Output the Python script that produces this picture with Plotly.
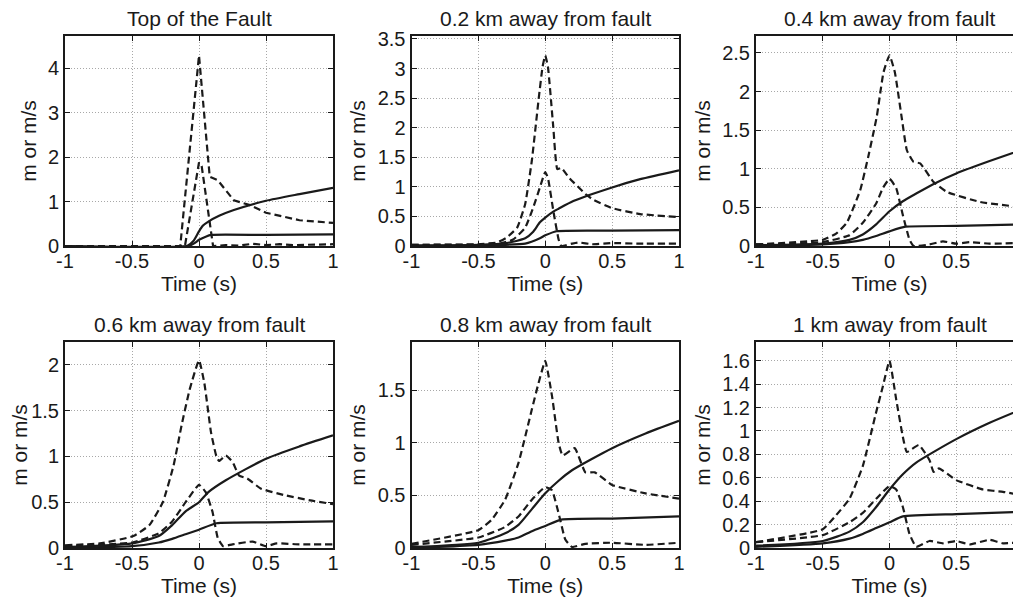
import plotly.graph_objects as go

FONT = "Liberation Sans, Arial, Helvetica, sans-serif"
INK = "#1a1a1a"

TITLES = ["Top of the Fault", "0.2 km away from fault", "0.4 km away from fault",
          "0.6 km away from fault", "0.8 km away from fault", "1 km away from fault"]
X_TICKS = [-1, -0.5, 0, 0.5, 1]
X_TICK_TEXT = ["-1", "-0.5", "0", "0.5", "1"]
Y_TICKS = [[0, 1, 2, 3, 4],
           [0, 0.5, 1, 1.5, 2, 2.5, 3, 3.5],
           [0, 0.5, 1, 1.5, 2, 2.5],
           [0, 0.5, 1, 1.5, 2],
           [0, 0.5, 1, 1.5],
           [0, 0.2, 0.4, 0.6, 0.8, 1, 1.2, 1.4, 1.6]]
Y_MAX = [4.73, 3.55, 2.72, 2.25, 1.96, 1.76]

# ---- Panel 1: Top of the Fault ----
P1_BIG_T = [-1, -0.14, 0.0, 0.08, 0.14, 0.26, 0.38, 0.5, 0.75, 1.0]
P1_BIG_V = [0.0, 0.0, 4.29, 1.56, 1.48, 1.03, 0.92, 0.75, 0.58, 0.52]
P1_SMALL_T = [-1, -0.105, 0.0, 0.02, 0.105, 0.2, 0.3, 0.4, 0.5, 0.6, 0.7, 0.8, 1.0]
P1_SMALL_V = [0.0, 0.0, 1.88, 1.8, 0.0, 0.02, 0.01, 0.05, 0.02, 0.04, 0.02, 0.03, 0.04]
P1_DISP_T = [-1, -0.09, -0.04, 0.0, 0.03, 0.07, 0.15, 0.26, 0.5, 0.75, 1.0]
P1_DISP_V = [0.0, 0.0, 0.12, 0.33, 0.46, 0.55, 0.68, 0.81, 1.02, 1.17, 1.31]
P1_DISP2_T = [-1, -0.08, -0.03, 0.0, 0.05, 0.09, 0.5, 1.0]
P1_DISP2_V = [0.0, 0.0, 0.07, 0.14, 0.21, 0.25, 0.25, 0.26]

# ---- Panel 2: 0.2 km ----
P2_BIG_T = [-1, -0.5, -0.36, -0.29, -0.21, -0.15, -0.1, -0.05, -0.02, 0.0, 0.02, 0.06, 0.09,
            0.12, 0.18, 0.3, 0.36, 0.5, 0.71, 1.0]
P2_BIG_V = [0.02, 0.03, 0.06, 0.14, 0.31, 0.71, 1.45, 2.47, 3.03, 3.22, 3.03, 2.01, 1.3,
            1.32, 1.15, 0.88, 0.78, 0.64, 0.54, 0.49]
P2_SMALL_T = [-1, -0.5, -0.36, -0.24, -0.15, -0.09, -0.04, 0.0, 0.02, 0.06, 0.1, 0.12, 0.2,
              0.25, 0.35, 0.5, 0.7, 1.0]
P2_SMALL_V = [0.02, 0.02, 0.03, 0.11, 0.31, 0.65, 0.99, 1.25, 1.15, 0.6, 0.11, 0.0, 0.04,
              0.06, 0.03, 0.05, 0.04, 0.04]
P2_DISP_T = [-1, -0.5, -0.29, -0.15, -0.09, -0.04, 0.0, 0.06, 0.1, 0.21, 0.5, 0.71, 1.0]
P2_DISP_V = [0.01, 0.02, 0.05, 0.13, 0.24, 0.4, 0.48, 0.58, 0.63, 0.76, 0.99, 1.13, 1.28]
P2_DISP2_T = [-1, -0.5, -0.15, -0.04, 0.0, 0.085, 0.5, 1.0]
P2_DISP2_V = [0.0, 0.01, 0.04, 0.13, 0.18, 0.25, 0.26, 0.27]

# ---- Panel 3: 0.4 km ----
P3_BIG_T = [-1, -0.5, -0.4, -0.32, -0.22, -0.16, -0.095, -0.045, 0.0, 0.04, 0.09, 0.13,
            0.18, 0.23, 0.33, 0.43, 0.68, 1.0]
P3_BIG_V = [0.02, 0.08, 0.16, 0.3, 0.72, 1.15, 1.68, 2.25, 2.47, 2.25, 1.68, 1.24,
            1.09, 1.07, 0.83, 0.7, 0.57, 0.5]
P3_SMALL_T = [-1, -0.5, -0.3, -0.2, -0.1, -0.05, 0.0, 0.05, 0.1, 0.15, 0.18, 0.3, 0.4,
              0.5, 0.6, 0.75, 1.0]
P3_SMALL_V = [0.02, 0.05, 0.14, 0.3, 0.55, 0.75, 0.87, 0.75, 0.4, 0.08, 0.0, 0.02, 0.06,
              0.03, 0.05, 0.03, 0.04]
P3_DISP_T = [-1, -0.5, -0.3, -0.2, -0.1, 0.0, 0.1, 0.2, 0.35, 0.5, 0.75, 1.0]
P3_DISP_V = [0.01, 0.03, 0.08, 0.15, 0.28, 0.45, 0.58, 0.68, 0.82, 0.94, 1.1, 1.25]
P3_DISP2_T = [-1, -0.5, -0.3, -0.2, -0.1, 0.0, 0.12, 0.5, 1.0]
P3_DISP2_V = [0.0, 0.02, 0.05, 0.08, 0.13, 0.19, 0.25, 0.26, 0.28]

# ---- Panel 4: 0.6 km ----
P4_BIG_T = [-1, -0.74, -0.49, -0.37, -0.27, -0.19, -0.13, -0.07, 0.0, 0.04, 0.09, 0.13,
            0.15, 0.2, 0.25, 0.3, 0.36, 0.46, 0.63, 0.83, 1.0]
P4_BIG_V = [0.03, 0.05, 0.13, 0.25, 0.5, 0.9, 1.34, 1.73, 2.05, 1.8, 1.26, 1.0,
            0.95, 1.01, 0.94, 0.79, 0.76, 0.65, 0.58, 0.52, 0.48]
P4_SMALL_T = [-1, -0.5, -0.3, -0.2, -0.1, 0.0, 0.05, 0.1, 0.14, 0.18, 0.25, 0.4, 0.5,
              0.58, 0.75, 1.0]
P4_SMALL_V = [0.02, 0.06, 0.16, 0.29, 0.5, 0.69, 0.61, 0.4, 0.11, 0.02, 0.04, 0.07, 0.02,
              0.05, 0.04, 0.04]
P4_DISP_T = [-1, -0.5, -0.3, -0.2, -0.1, 0.0, 0.07, 0.2, 0.5, 0.75, 1.0]
P4_DISP_V = [0.01, 0.05, 0.13, 0.25, 0.4, 0.5, 0.61, 0.74, 0.975, 1.11, 1.23]
P4_DISP2_T = [-1, -0.5, -0.3, -0.2, -0.1, 0.0, 0.13, 0.5, 1.0]
P4_DISP2_V = [0.0, 0.02, 0.06, 0.1, 0.15, 0.2, 0.27, 0.28, 0.29]

# ---- Panel 5: 0.8 km ----
P5_BIG_T = [-1, -0.5, -0.4, -0.3, -0.2, -0.1, -0.05, 0.0, 0.05, 0.1, 0.13, 0.22, 0.3,
            0.37, 0.5, 0.75, 1.0]
P5_BIG_V = [0.04, 0.17, 0.27, 0.46, 0.81, 1.32, 1.57, 1.78, 1.45, 1.0, 0.88, 0.95, 0.72,
            0.72, 0.6, 0.52, 0.47]
P5_SMALL_T = [-1, -0.5, -0.3, -0.2, -0.1, 0.0, 0.05, 0.1, 0.15, 0.2, 0.3, 0.5, 0.75, 1.0]
P5_SMALL_V = [0.03, 0.1, 0.2, 0.3, 0.46, 0.58, 0.55, 0.33, 0.08, 0.01, 0.04, 0.05, 0.03, 0.05]
P5_DISP_T = [-1, -0.5, -0.3, -0.2, -0.1, 0.0, 0.1, 0.2, 0.5, 0.75, 1.0]
P5_DISP_V = [0.01, 0.05, 0.14, 0.22, 0.37, 0.52, 0.64, 0.74, 0.95, 1.09, 1.21]
P5_DISP2_T = [-1, -0.5, -0.3, -0.2, -0.1, 0.0, 0.12, 0.5, 1.0]
P5_DISP2_V = [0.0, 0.03, 0.07, 0.1, 0.16, 0.21, 0.27, 0.28, 0.3]

# ---- Panel 6: 1 km ----
P6_BIG_T = [-1, -0.5, -0.4, -0.3, -0.2, -0.1, -0.05, 0.0, 0.05, 0.1, 0.13, 0.22, 0.3,
            0.33, 0.37, 0.5, 0.7, 0.85, 1.0]
P6_BIG_V = [0.05, 0.16, 0.28, 0.42, 0.7, 1.16, 1.38, 1.6, 1.27, 0.95, 0.82, 0.88, 0.75,
            0.65, 0.68, 0.58, 0.5, 0.48, 0.45]
P6_SMALL_T = [-1, -0.5, -0.3, -0.2, -0.1, 0.0, 0.05, 0.1, 0.15, 0.2, 0.3, 0.4, 0.5, 0.6,
              0.75, 0.85, 1.0]
P6_SMALL_V = [0.05, 0.11, 0.22, 0.3, 0.42, 0.53, 0.5, 0.35, 0.12, 0.01, 0.06, 0.04, 0.06,
              0.03, 0.07, 0.04, 0.05]
P6_DISP_T = [-1, -0.5, -0.3, -0.2, -0.1, 0.0, 0.1, 0.2, 0.5, 0.75, 1.0]
P6_DISP_V = [0.02, 0.06, 0.14, 0.22, 0.35, 0.5, 0.63, 0.73, 0.93, 1.07, 1.19]
P6_DISP2_T = [-1, -0.5, -0.3, -0.2, -0.1, 0.0, 0.1, 0.5, 1.0]
P6_DISP2_V = [0.01, 0.04, 0.08, 0.12, 0.17, 0.22, 0.27, 0.29, 0.31]

PANELS = [
    (P1_BIG_T, P1_BIG_V, P1_SMALL_T, P1_SMALL_V, P1_DISP_T, P1_DISP_V, P1_DISP2_T, P1_DISP2_V),
    (P2_BIG_T, P2_BIG_V, P2_SMALL_T, P2_SMALL_V, P2_DISP_T, P2_DISP_V, P2_DISP2_T, P2_DISP2_V),
    (P3_BIG_T, P3_BIG_V, P3_SMALL_T, P3_SMALL_V, P3_DISP_T, P3_DISP_V, P3_DISP2_T, P3_DISP2_V),
    (P4_BIG_T, P4_BIG_V, P4_SMALL_T, P4_SMALL_V, P4_DISP_T, P4_DISP_V, P4_DISP2_T, P4_DISP2_V),
    (P5_BIG_T, P5_BIG_V, P5_SMALL_T, P5_SMALL_V, P5_DISP_T, P5_DISP_V, P5_DISP2_T, P5_DISP2_V),
    (P6_BIG_T, P6_BIG_V, P6_SMALL_T, P6_SMALL_V, P6_DISP_T, P6_DISP_V, P6_DISP2_T, P6_DISP2_V),
]

# page body has an 8px margin, so figure coordinates are offset by 8px
W, H = 1021, 605
X_DOMAINS = [[57 / W, 325 / W], [403.5 / W, 671 / W], [748 / W, 1015 / W]]
Y_DOMAINS = [[1 - 238 / H, 1 - 28 / H], [1 - 540 / H, 1 - 334 / H]]

fig = go.Figure()
layout = dict(
    width=W, height=H, margin=dict(l=0, r=0, t=0, b=0),
    paper_bgcolor="white", plot_bgcolor="white", showlegend=False,
    font=dict(family=FONT, size=20, color=INK),
)
annotations = []

for i, data in enumerate(PANELS):
    r, c = divmod(i, 3)
    n = "" if i == 0 else str(i + 1)
    xa, ya = "x" + n, "y" + n
    bt, bv, st, sv, dt, dv, d2t, d2v = data
    dash_shape = "linear" if i == 0 else "spline"
    dash = dict(color=INK, width=2.2, dash="7px,4px", shape=dash_shape, smoothing=0.4)
    solid = dict(color=INK, width=2.2)
    fig.add_trace(go.Scatter(x=bt, y=bv, mode="lines", line=dash, xaxis=xa, yaxis=ya))
    fig.add_trace(go.Scatter(x=st, y=sv, mode="lines", line=dash, xaxis=xa, yaxis=ya))
    fig.add_trace(go.Scatter(x=dt, y=dv, mode="lines", line=dict(solid, shape="spline", smoothing=0.6),
                             xaxis=xa, yaxis=ya))
    fig.add_trace(go.Scatter(x=d2t, y=d2v, mode="lines", line=dict(solid, shape="spline", smoothing=0.5),
                             xaxis=xa, yaxis=ya))

    common = dict(showline=True, linecolor=INK, linewidth=2, ticks="inside", ticklen=5,
                  tickcolor=INK, tickwidth=1, showgrid=True, gridcolor="#a8a8a8",
                  griddash="1px,2px", gridwidth=1, zeroline=False, automargin=False,
                  mirror="ticks", tickfont=dict(family=FONT, size=20, color=INK))
    layout["xaxis" + n] = dict(
        common, domain=X_DOMAINS[c], anchor=ya, range=[-1, 1],
        tickvals=X_TICKS, ticktext=X_TICK_TEXT, ticklabelstandoff=-4,
        title=dict(text="Time (s)", font=dict(family=FONT, size=21, color=INK), standoff=2),
    )
    layout["yaxis" + n] = dict(
        common, domain=Y_DOMAINS[r], anchor=xa, range=[0, Y_MAX[i]],
        tickvals=Y_TICKS[i], ticktext=[("%g" % v) for v in Y_TICKS[i]],
        title=dict(text="m or m/s", font=dict(family=FONT, size=21, color=INK), standoff=6),
    )
    annotations.append(dict(
        text=TITLES[i], xref="paper", yref="paper",
        x=sum(X_DOMAINS[c]) / 2, y=Y_DOMAINS[r][1],
        xanchor="center", yanchor="bottom", yshift=4, showarrow=False,
        font=dict(family=FONT, size=21, color=INK),
    ))

layout["annotations"] = annotations
fig.update_layout(**layout)
fig.write_html("out.html")
